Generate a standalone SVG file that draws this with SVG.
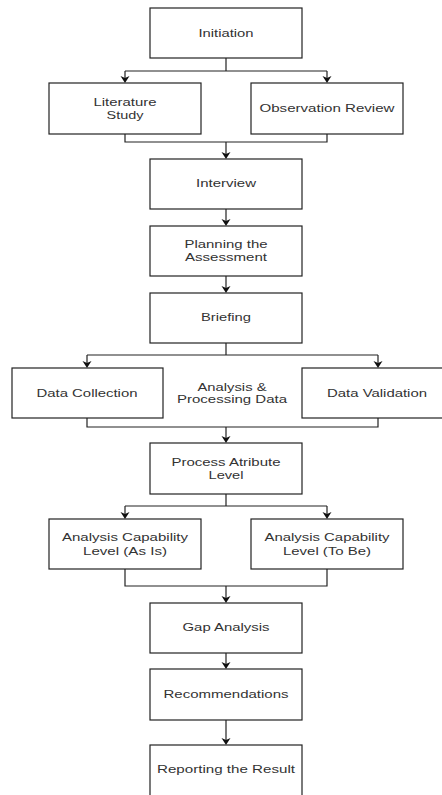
<svg xmlns="http://www.w3.org/2000/svg" width="442" height="795" viewBox="0 0 442 795">
<style>
.box{fill:#fff;stroke:#222;stroke-width:1.2}
.t{font-family:"Liberation Sans",Arial,sans-serif;font-size:11px;fill:#333;text-anchor:middle}
.c{fill:none;stroke:#222;stroke-width:1.2}
.h{fill:#111;stroke:none}
</style>
<defs>
<path id="ah" d="M-4.5,-7 L0,-5 L4.5,-7 L0,0 Z"/>
</defs>
<rect width="442" height="795" fill="#fff"/>
<g id="connectors">
<path class="c" d="M226,58 V71 M125,71 H327 M125,71 V79 M327,71 V79"/>
<path class="c" d="M125,134 V142 H327 V134 M226,142 V155"/>
<path class="c" d="M226,209 V222"/>
<path class="c" d="M226,276 V289"/>
<path class="c" d="M226,343 V355 M87,355 H378 M87,355 V364 M378,355 V364"/>
<path class="c" d="M87,418 V427 H378 V418 M226,427 V439"/>
<path class="c" d="M226,494 V506 M125,506 H327 M125,506 V515 M327,506 V515"/>
<path class="c" d="M125,569 V586 H327 V569 M226,586 V599"/>
<path class="c" d="M226,653 V665"/>
<path class="c" d="M226,720 V741"/>
<g class="h">
<use href="#ah" x="125" y="83"/><use href="#ah" x="327" y="83"/>
<use href="#ah" x="226" y="159"/>
<use href="#ah" x="226" y="226"/>
<use href="#ah" x="226" y="293"/>
<use href="#ah" x="87" y="368"/><use href="#ah" x="378" y="368"/>
<use href="#ah" x="226" y="443"/>
<use href="#ah" x="125" y="519"/><use href="#ah" x="327" y="519"/>
<use href="#ah" x="226" y="603"/>
<use href="#ah" x="226" y="669"/>
<use href="#ah" x="226" y="745"/>
</g>
</g>
<g id="initiation"><rect class="box" x="150" y="8" width="152" height="50"/><text class="t" x="226" y="37" textLength="55" lengthAdjust="spacingAndGlyphs">Initiation</text></g>
<g id="literature"><rect class="box" x="49" y="83" width="152" height="51"/><text class="t" x="125" y="106" textLength="63" lengthAdjust="spacingAndGlyphs">Literature</text><text class="t" x="125" y="119" textLength="37" lengthAdjust="spacingAndGlyphs">Study</text></g>
<g id="observation"><rect class="box" x="251" y="83" width="152" height="51"/><text class="t" x="327" y="112" textLength="135" lengthAdjust="spacingAndGlyphs">Observation Review</text></g>
<g id="interview"><rect class="box" x="150" y="159" width="152" height="50"/><text class="t" x="226" y="187" textLength="60" lengthAdjust="spacingAndGlyphs">Interview</text></g>
<g id="planning"><rect class="box" x="150" y="226" width="152" height="50"/><text class="t" x="226" y="248" textLength="83" lengthAdjust="spacingAndGlyphs">Planning the</text><text class="t" x="226" y="261" textLength="82" lengthAdjust="spacingAndGlyphs">Assessment</text></g>
<g id="briefing"><rect class="box" x="150" y="293" width="152" height="50"/><text class="t" x="226" y="321" textLength="50" lengthAdjust="spacingAndGlyphs">Briefing</text></g>
<g id="data-collection"><rect class="box" x="12" y="368" width="151" height="50"/><text class="t" x="87" y="397" textLength="101" lengthAdjust="spacingAndGlyphs">Data Collection</text></g>
<g id="analysis-processing"><text class="t" x="232" y="391" textLength="69" lengthAdjust="spacingAndGlyphs">Analysis &amp;</text><text class="t" x="232" y="403" textLength="110" lengthAdjust="spacingAndGlyphs">Processing Data</text></g>
<g id="data-validation"><rect class="box" x="302" y="368" width="142" height="50"/><text class="t" x="377" y="397" textLength="100" lengthAdjust="spacingAndGlyphs">Data Validation</text></g>
<g id="process-attribute"><rect class="box" x="150" y="443" width="152" height="51"/><text class="t" x="226" y="466" textLength="109" lengthAdjust="spacingAndGlyphs">Process Atribute</text><text class="t" x="226" y="479" textLength="35" lengthAdjust="spacingAndGlyphs">Level</text></g>
<g id="as-is"><rect class="box" x="49" y="519" width="152" height="50"/><text class="t" x="125" y="541" textLength="126" lengthAdjust="spacingAndGlyphs">Analysis Capability</text><text class="t" x="125" y="555" textLength="84" lengthAdjust="spacingAndGlyphs">Level (As Is)</text></g>
<g id="to-be"><rect class="box" x="251" y="519" width="152" height="50"/><text class="t" x="327" y="541" textLength="125" lengthAdjust="spacingAndGlyphs">Analysis Capability</text><text class="t" x="327" y="555" textLength="88" lengthAdjust="spacingAndGlyphs">Level (To Be)</text></g>
<g id="gap"><rect class="box" x="150" y="603" width="152" height="50"/><text class="t" x="226" y="631" textLength="87" lengthAdjust="spacingAndGlyphs">Gap Analysis</text></g>
<g id="recommendations"><rect class="box" x="150" y="669" width="152" height="51"/><text class="t" x="226" y="698" textLength="125" lengthAdjust="spacingAndGlyphs">Recommendations</text></g>
<g id="reporting"><rect class="box" x="150" y="745" width="152" height="60"/><text class="t" x="226" y="773" textLength="138" lengthAdjust="spacingAndGlyphs">Reporting the Result</text></g>
</svg>
